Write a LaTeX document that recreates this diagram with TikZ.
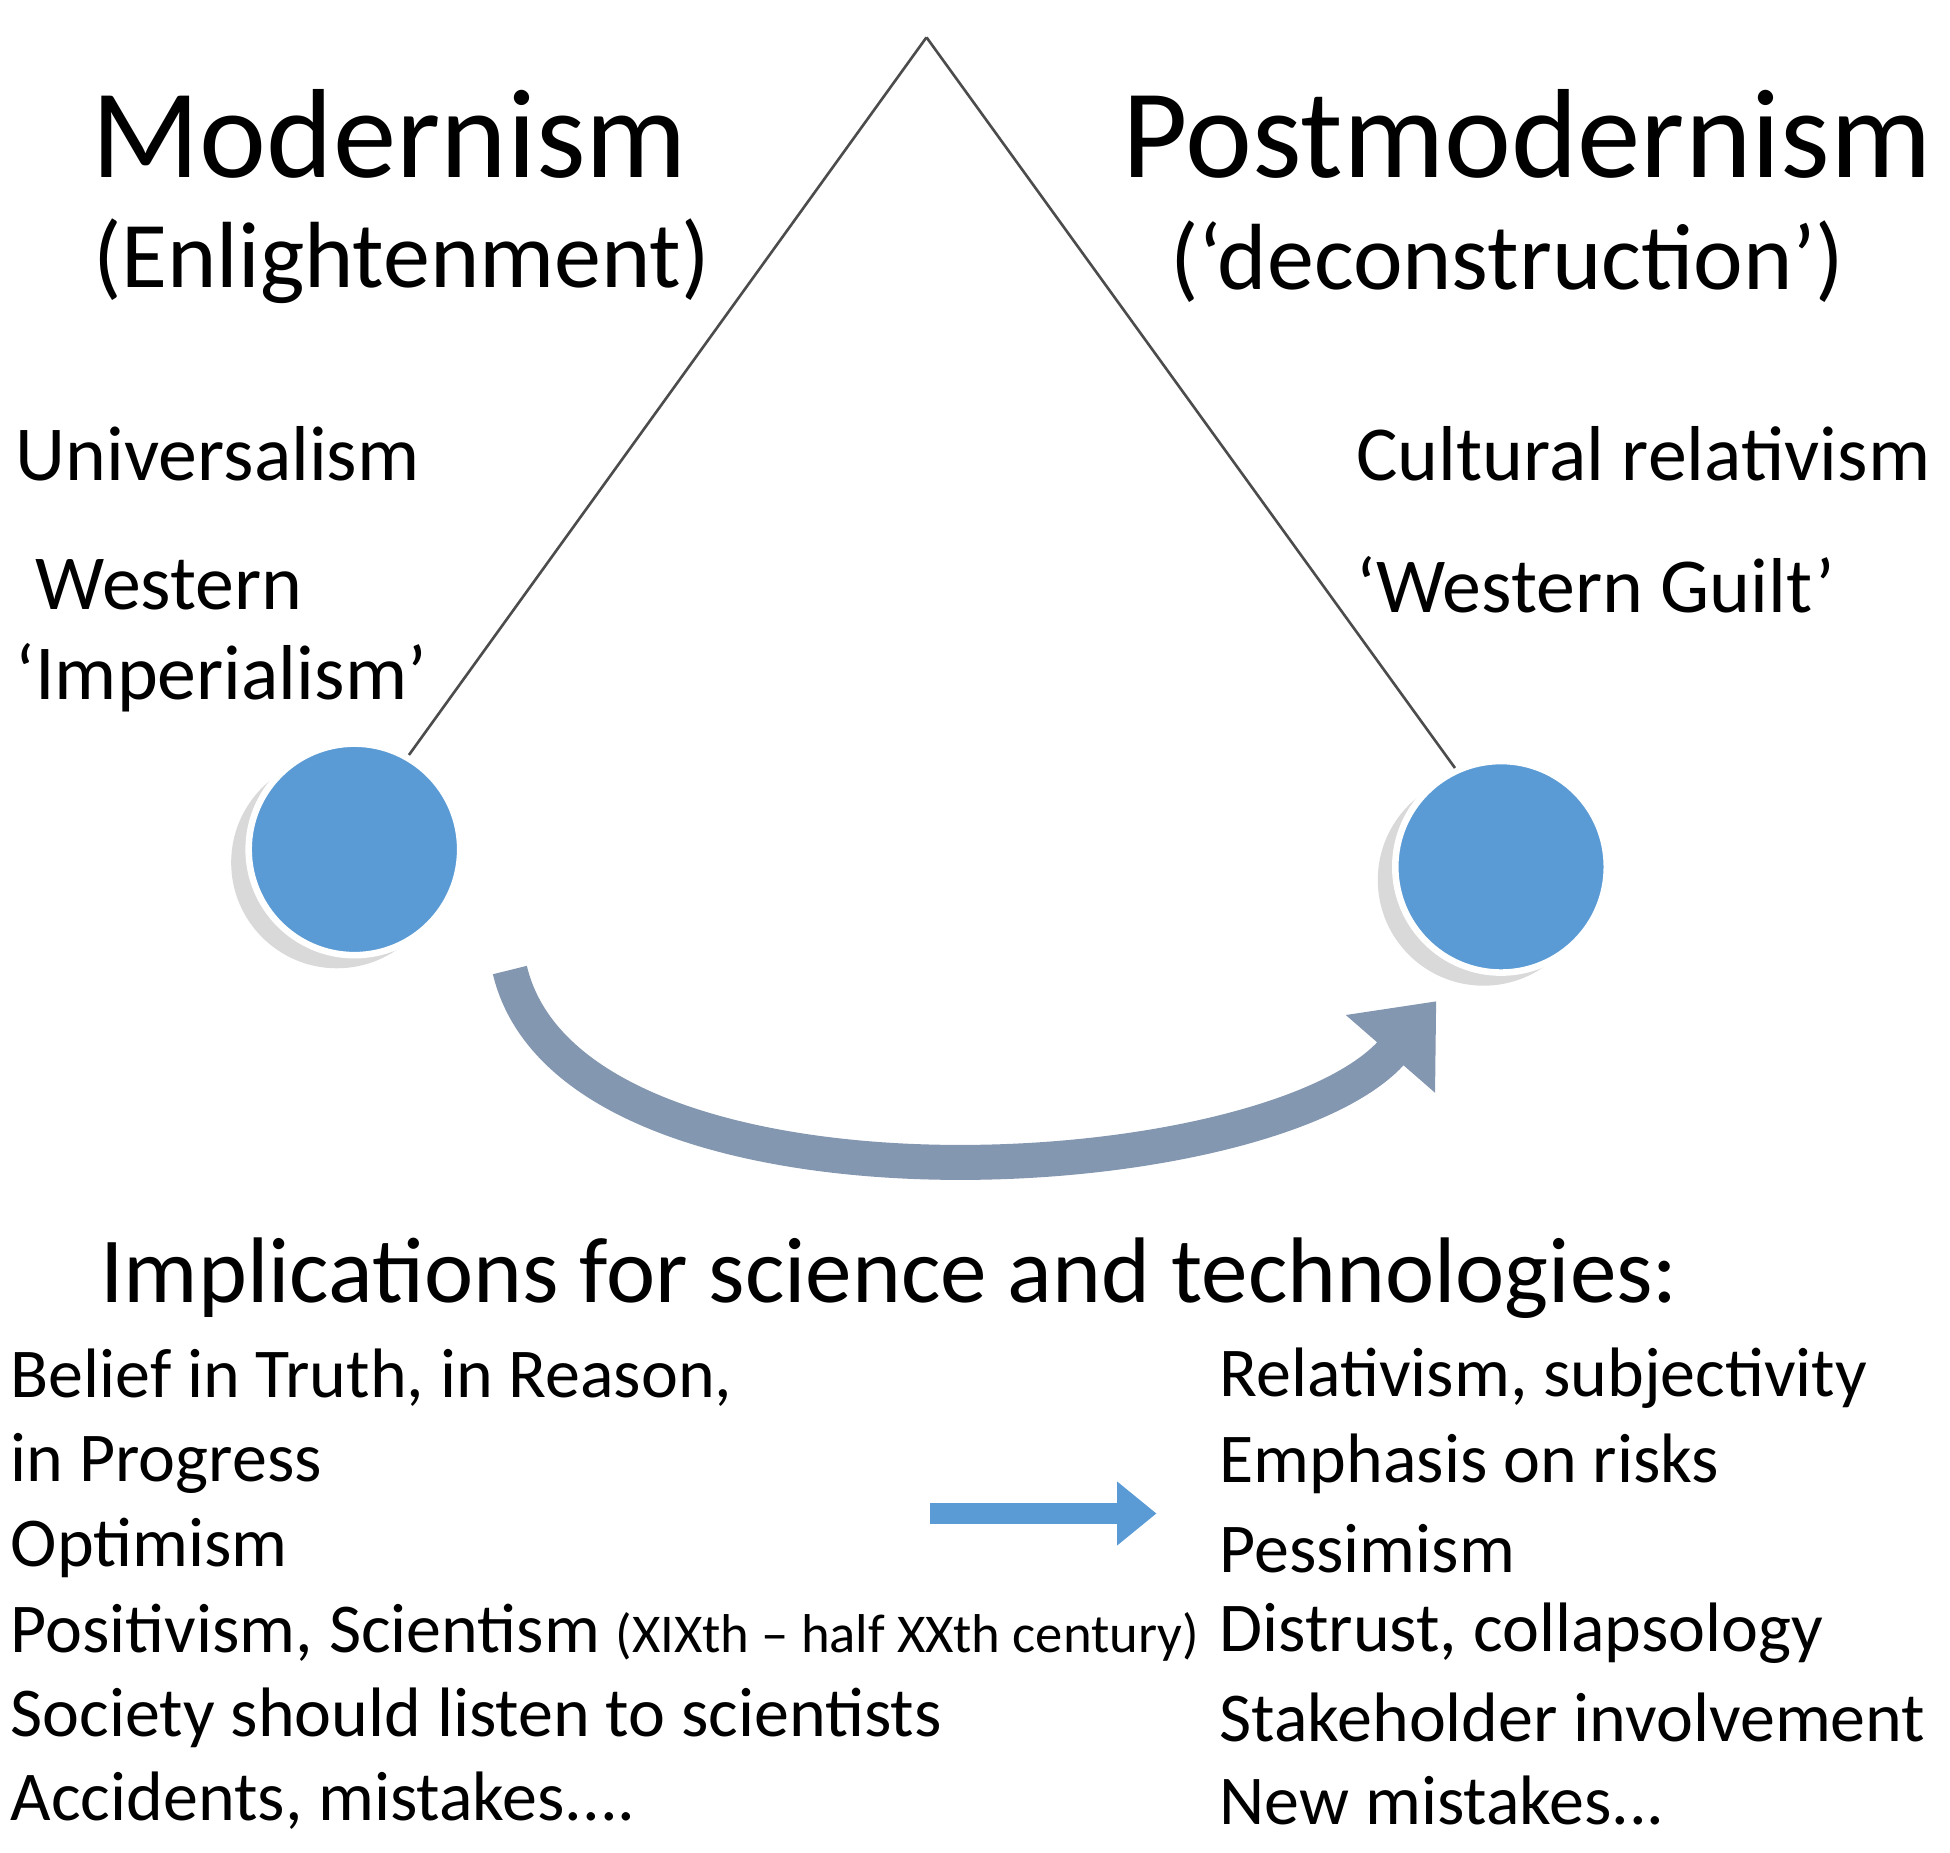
\documentclass[tikz,border=0pt]{standalone}
\usepackage{fontspec}
\setmainfont{Carlito}
\usetikzlibrary{arrows.meta,shadows}
\definecolor{ballblue}{HTML}{5B9BD5}
\definecolor{swoosh}{HTML}{8497B0}
\begin{document}
\begin{tikzpicture}[x=0.01cm,y=-0.01cm,
    title/.style={inner sep=0pt, font=\fontsize{29}{34}\selectfont},
    subtitle/.style={inner sep=0pt, font=\fontsize{21.5}{26}\selectfont},
    side/.style={inner sep=0pt, anchor=west, font=\fontsize{17.8}{21}\selectfont},
    item/.style={inner sep=0pt, anchor=west, font=\fontsize{16}{19}\selectfont},
    ball/.style={circle, minimum size=1.7cm, fill=ballblue, draw=white, line width=1.5pt,
      drop shadow={shadow xshift=-4pt, shadow yshift=-3pt, opacity=0.3}},
    stick/.style={draw=black!70, line width=0.6pt}
]
\useasboundingbox (0,0) rectangle (1568,1490);
% pendulum
\coordinate (apex) at (745,30);
\node[ball] (modball) at (285,683) {};
\node[ball] (postball) at (1207,697) {};
\draw[stick] (apex) -- (modball.60);
\draw[stick] (apex) -- (postball.115);
% swing
\coordinate (swingA) at (410,780);
\coordinate (swingB) at (1155,805);
\draw[swoosh, line width=8pt, -{Triangle[width=26pt,length=16pt]}]
  (swingA) .. controls (460,990) and (1020,960) .. (swingB);
% headings
\node[title] (modern) at (313,108) {Modernism};
\node[subtitle] (enlight) at (323,210) {(Enlightenment)};
\node[title] (postmodern) at (1228,108) {Postmodernism};
\node[subtitle] (decon) at (1212,210) {(‘deconstruction’)};
% sides
\node[side] (univ) at (12,365) {Universalism};
\node[side] (west) at (28,470) {Western};
\node[side] (imper) at (12,545) {‘Imperialism’};
\node[side] (cultrel) at (1090,365) {Cultural relativism};
\node[side] (guilt) at (1090,470) {‘Western Guilt’};
% implications
\node[inner sep=0pt, anchor=west, font=\fontsize{21.3}{25}\selectfont] (impl) at (80,1028)
  {Implications for science and technologies:};
\node[item] (l1) at (8,1108) {Belief in Truth, in Reason,};
\node[item] (l2) at (8,1177) {in Progress};
\node[item] (l3) at (8,1245) {Optimism};
\node[item] (l4) at (8,1313) {Positivism, Scientism {\fontsize{12.5}{15}\selectfont(XIXth – half XXth century)}};
\node[item] (l5) at (8,1381) {Society should listen to scientists};
\node[item] (l6) at (8,1448) {Accidents, mistakes....};
\node[item] (r1) at (980,1108) {Relativism, subjectivity};
\node[item] (r2) at (980,1177) {Emphasis on risks};
\node[item] (r3) at (980,1245) {Pessimism};
\node[item] (r4) at (980,1313) {Distrust, collapsology};
\node[item] (r5) at (980,1381) {Stakeholder involvement};
\node[item] (r6) at (980,1448) {New mistakes...};
\coordinate (shiftA) at (748,1217);
\coordinate (shiftB) at (930,1217);
\draw[ballblue, line width=5pt, -{Triangle[width=14pt,length=9pt]}] (shiftA) -- (shiftB);
\end{tikzpicture}
\end{document}
